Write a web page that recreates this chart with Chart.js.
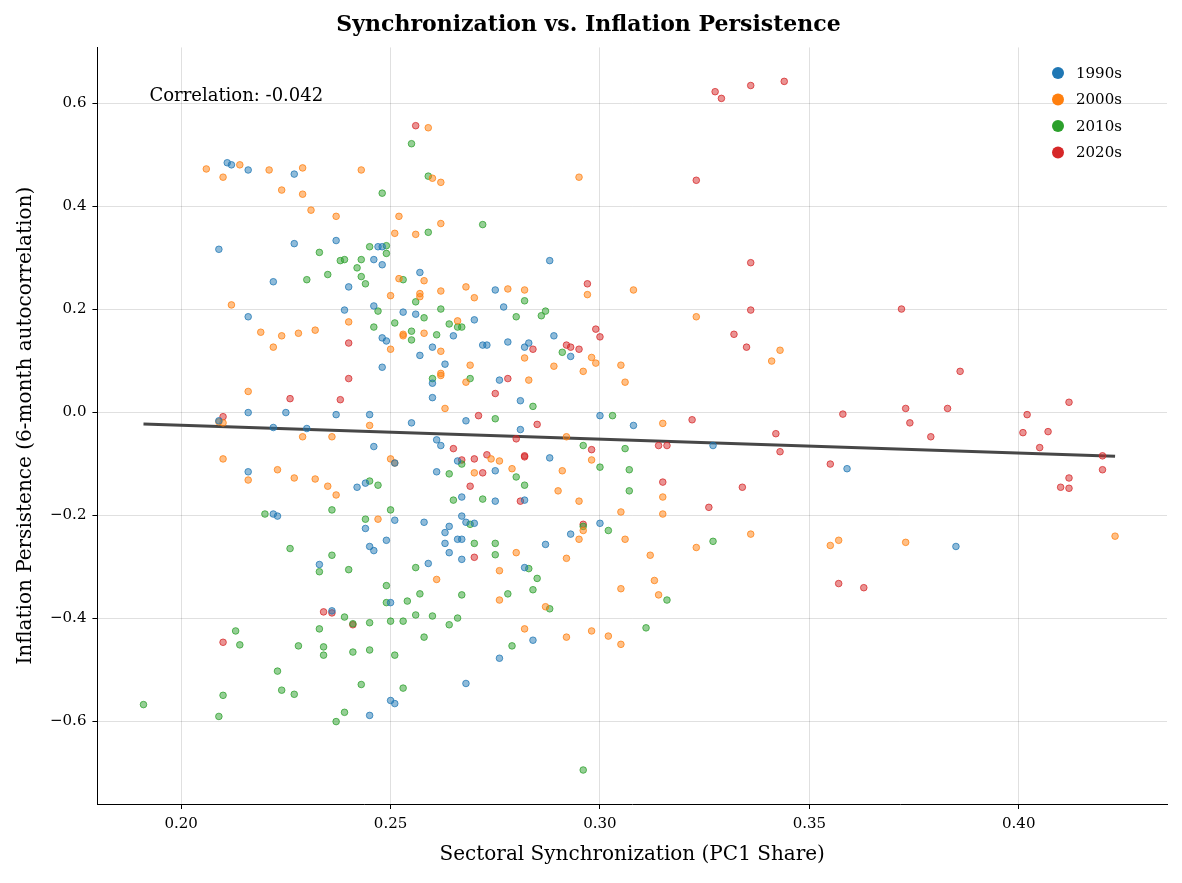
<!DOCTYPE html>
<html><head><meta charset="utf-8">
<script src="https://cdn.jsdelivr.net/npm/chart.js@4.4.0/dist/chart.umd.min.js"></script>
<style>html,body{margin:0;padding:0;background:#fff}#wrap{width:1182px;height:883px}#pre{font-family:'DejaVu Serif';position:absolute;left:-9999px}</style>
</head><body><div id="pre">Abc <b>Abc</b></div><div id="wrap"><canvas id="c"></canvas></div>
<script>
const seriesNames = ["1990s","2000s","2010s","2020s"];
const seriesColors = ["#1f77b4","#ff7f0e","#2ca02c","#d62728"];
const data1990s = [[0.211,0.485],[0.212,0.481],[0.216,0.471],[0.227,0.463],[0.209,0.317],[0.227,0.328],[0.237,0.334],[0.222,0.254],[0.216,0.186],[0.240,0.244],[0.239,0.199],[0.246,0.297],[0.247,0.322],[0.248,0.322],[0.248,0.287],[0.246,0.207],[0.248,0.145],[0.249,0.139],[0.248,0.088],[0.253,0.195],[0.256,0.191],[0.257,0.272],[0.257,0.111],[0.260,0.127],[0.260,0.057],[0.260,0.029],[0.263,0.094],[0.265,0.149],[0.270,0.180],[0.272,0.131],[0.273,0.131],[0.275,0.238],[0.277,0.205],[0.278,0.137],[0.282,0.127],[0.283,0.135],[0.288,0.295],[0.289,0.149],[0.293,0.109],[0.276,0.063],[0.281,0.023],[0.300,-0.006],[0.308,-0.025],[0.209,-0.016],[0.216,0.000],[0.225,0.000],[0.222,-0.029],[0.230,-0.031],[0.237,-0.004],[0.245,-0.004],[0.246,-0.066],[0.255,-0.020],[0.261,-0.053],[0.262,-0.064],[0.266,-0.094],[0.261,-0.115],[0.268,-0.016],[0.275,-0.113],[0.281,-0.033],[0.288,-0.088],[0.327,-0.064],[0.359,-0.109],[0.216,-0.115],[0.242,-0.145],[0.244,-0.137],[0.251,-0.098],[0.267,-0.164],[0.267,-0.201],[0.268,-0.213],[0.270,-0.215],[0.275,-0.172],[0.282,-0.170],[0.264,-0.221],[0.263,-0.233],[0.258,-0.213],[0.249,-0.248],[0.251,-0.209],[0.263,-0.254],[0.264,-0.272],[0.266,-0.246],[0.267,-0.246],[0.267,-0.285],[0.287,-0.256],[0.282,-0.301],[0.293,-0.236],[0.300,-0.215],[0.244,-0.225],[0.245,-0.260],[0.246,-0.268],[0.259,-0.293],[0.222,-0.197],[0.223,-0.201],[0.233,-0.295],[0.236,-0.385],[0.250,-0.369],[0.250,-0.559],[0.251,-0.565],[0.245,-0.588],[0.268,-0.526],[0.276,-0.477],[0.284,-0.442],[0.385,-0.260]];
const data2000s = [[0.206,0.473],[0.210,0.457],[0.214,0.481],[0.221,0.471],[0.229,0.475],[0.224,0.432],[0.229,0.424],[0.231,0.393],[0.237,0.381],[0.243,0.471],[0.259,0.553],[0.260,0.455],[0.262,0.447],[0.295,0.457],[0.252,0.381],[0.251,0.348],[0.256,0.346],[0.262,0.367],[0.258,0.256],[0.252,0.260],[0.257,0.231],[0.257,0.225],[0.250,0.227],[0.262,0.236],[0.268,0.244],[0.270,0.223],[0.278,0.240],[0.282,0.238],[0.297,0.229],[0.308,0.238],[0.212,0.209],[0.219,0.156],[0.222,0.127],[0.224,0.149],[0.228,0.154],[0.232,0.160],[0.240,0.176],[0.250,0.123],[0.253,0.152],[0.258,0.154],[0.253,0.149],[0.262,0.119],[0.266,0.178],[0.268,0.059],[0.269,0.092],[0.262,0.076],[0.262,0.072],[0.263,0.008],[0.282,0.106],[0.283,0.063],[0.289,0.090],[0.296,0.080],[0.298,0.107],[0.299,0.096],[0.305,0.092],[0.306,0.059],[0.323,0.186],[0.341,0.100],[0.343,0.121],[0.216,0.041],[0.209,-0.018],[0.210,-0.020],[0.229,-0.047],[0.236,-0.047],[0.245,-0.025],[0.250,-0.090],[0.251,-0.098],[0.210,-0.090],[0.223,-0.111],[0.216,-0.131],[0.227,-0.127],[0.232,-0.129],[0.235,-0.143],[0.237,-0.160],[0.247,-0.207],[0.270,-0.117],[0.274,-0.090],[0.276,-0.094],[0.279,-0.109],[0.291,-0.113],[0.298,-0.092],[0.292,-0.047],[0.315,-0.021],[0.290,-0.152],[0.295,-0.172],[0.305,-0.193],[0.315,-0.164],[0.315,-0.197],[0.296,-0.229],[0.295,-0.246],[0.306,-0.246],[0.323,-0.262],[0.336,-0.236],[0.355,-0.258],[0.357,-0.248],[0.373,-0.252],[0.423,-0.240],[0.313,-0.326],[0.314,-0.354],[0.292,-0.283],[0.312,-0.277],[0.280,-0.272],[0.276,-0.307],[0.276,-0.364],[0.287,-0.377],[0.261,-0.324],[0.282,-0.420],[0.292,-0.436],[0.298,-0.424],[0.302,-0.434],[0.305,-0.450],[0.305,-0.342]];
const data2010s = [[0.255,0.522],[0.259,0.459],[0.248,0.426],[0.272,0.365],[0.259,0.350],[0.233,0.311],[0.230,0.258],[0.235,0.268],[0.238,0.295],[0.239,0.297],[0.243,0.297],[0.242,0.281],[0.244,0.250],[0.243,0.264],[0.245,0.322],[0.249,0.324],[0.249,0.309],[0.253,0.258],[0.256,0.215],[0.262,0.201],[0.246,0.166],[0.247,0.197],[0.251,0.174],[0.255,0.158],[0.255,0.141],[0.258,0.184],[0.261,0.151],[0.264,0.172],[0.266,0.166],[0.267,0.166],[0.269,0.066],[0.280,0.186],[0.282,0.217],[0.286,0.188],[0.287,0.197],[0.291,0.117],[0.284,0.012],[0.260,0.066],[0.275,-0.012],[0.303,-0.006],[0.296,-0.064],[0.306,-0.070],[0.267,-0.100],[0.264,-0.119],[0.265,-0.170],[0.272,-0.168],[0.280,-0.125],[0.282,-0.141],[0.300,-0.106],[0.307,-0.111],[0.307,-0.152],[0.302,-0.229],[0.296,-0.221],[0.327,-0.250],[0.245,-0.133],[0.247,-0.141],[0.244,-0.207],[0.236,-0.189],[0.250,-0.189],[0.236,-0.277],[0.233,-0.309],[0.240,-0.305],[0.249,-0.336],[0.220,-0.197],[0.226,-0.264],[0.269,-0.217],[0.270,-0.254],[0.275,-0.254],[0.275,-0.276],[0.283,-0.303],[0.285,-0.322],[0.284,-0.344],[0.278,-0.352],[0.288,-0.381],[0.267,-0.354],[0.257,-0.352],[0.254,-0.366],[0.249,-0.369],[0.250,-0.405],[0.253,-0.405],[0.256,-0.393],[0.260,-0.395],[0.245,-0.408],[0.241,-0.410],[0.239,-0.397],[0.233,-0.420],[0.234,-0.455],[0.234,-0.471],[0.228,-0.453],[0.241,-0.465],[0.245,-0.461],[0.251,-0.471],[0.213,-0.424],[0.214,-0.451],[0.223,-0.502],[0.224,-0.539],[0.227,-0.547],[0.210,-0.549],[0.209,-0.590],[0.191,-0.567],[0.243,-0.528],[0.253,-0.535],[0.239,-0.582],[0.237,-0.600],[0.258,-0.436],[0.264,-0.412],[0.266,-0.399],[0.279,-0.453],[0.311,-0.418],[0.316,-0.364],[0.296,-0.694],[0.256,-0.301]];
const data2020s = [[0.3275,0.623],[0.329,0.610],[0.336,0.635],[0.344,0.643],[0.256,0.557],[0.323,0.451],[0.297,0.250],[0.336,0.291],[0.299,0.162],[0.300,0.147],[0.332,0.152],[0.335,0.127],[0.336,0.199],[0.372,0.201],[0.386,0.080],[0.293,0.127],[0.292,0.131],[0.295,0.123],[0.284,0.123],[0.240,0.135],[0.240,0.066],[0.238,0.025],[0.226,0.027],[0.210,-0.008],[0.358,-0.003],[0.373,0.008],[0.374,-0.020],[0.383,0.008],[0.379,-0.047],[0.402,-0.004],[0.401,-0.039],[0.405,-0.068],[0.407,-0.037],[0.412,0.020],[0.410,-0.145],[0.412,-0.147],[0.412,-0.127],[0.420,-0.084],[0.420,-0.111],[0.342,-0.041],[0.343,-0.076],[0.355,-0.100],[0.322,-0.014],[0.314,-0.064],[0.316,-0.064],[0.315,-0.135],[0.326,-0.184],[0.334,-0.145],[0.357,-0.332],[0.363,-0.340],[0.272,-0.117],[0.273,-0.082],[0.270,-0.090],[0.271,-0.006],[0.275,0.037],[0.278,0.066],[0.280,-0.051],[0.282,-0.084],[0.281,-0.172],[0.285,-0.023],[0.282,-0.086],[0.298,-0.072],[0.296,-0.217],[0.270,-0.281],[0.269,-0.143],[0.265,-0.070],[0.234,-0.387],[0.236,-0.389],[0.241,-0.412],[0.210,-0.446],[0.267,-0.092]];
const fitX = [0.191,0.423];
const fitY = [-0.022,-0.085];
const xTicks = [0.20,0.25,0.30,0.35,0.40];
const yTicks = [-0.6,-0.4,-0.2,0.0,0.2,0.4,0.6];
const correlationText = "Correlation: -0.042";

const FONT = "'DejaVu Serif'";
const allData = [data1990s,data2000s,data2010s,data2020s];
function alpha(hex,a){const n=parseInt(hex.slice(1),16);return `rgba(${n>>16},${(n>>8)&255},${n&255},${a})`;}
function build(){
const datasets = allData.map((d,i)=>({
  label: seriesNames[i], type:'scatter',
  data: d.map(p=>({x:p[0],y:p[1]})),
  backgroundColor: alpha(seriesColors[i],0.5), borderColor: alpha(seriesColors[i],0.75),
  borderWidth:1, pointRadius:3.3
}));
datasets.push({label:'fit',type:'line',data:fitX.map((x,i)=>({x,y:fitY[i]})),borderColor:'rgba(51,51,51,0.9)',borderWidth:3,pointRadius:0,fill:false});
const overlay = {
  id:'overlay',
  afterDatasetsDraw(chart){
    const {ctx,chartArea:a}=chart;
    ctx.save();
    ctx.fillStyle='#000';ctx.font=`18px ${FONT}`;ctx.textBaseline='middle';ctx.textAlign='left';
    ctx.fillText(correlationText,a.left+52,96);
    ctx.font=`15px ${FONT}`;
    seriesNames.forEach((n,i)=>{
      const y=73+i*26.5;
      ctx.beginPath();ctx.arc(1058,y,6,0,Math.PI*2);ctx.fillStyle=seriesColors[i];ctx.fill();
      ctx.fillStyle='#000';ctx.fillText(n,1076,y+1);
    });
    ctx.restore();
  }
};
const fmtMinus = s=>s.replace('-','\u2212');
new Chart(document.getElementById('c'),{
  data:{datasets},
  options:{
    responsive:true,maintainAspectRatio:false,animation:false,
    layout:{padding:{left:10,right:15,top:0,bottom:12}},
    plugins:{legend:{display:false},tooltip:{enabled:false},
      title:{display:true,text:'Synchronization vs. Inflation Persistence',color:'#000',font:{family:FONT,size:22,weight:'bold'},padding:{top:12,bottom:9}}},
    scales:{
      x:{type:'linear',min:0.18,max:0.4354,
        afterBuildTicks:s=>{s.ticks=xTicks.map(v=>({value:v}));},
        ticks:{color:'#000',font:{family:FONT,size:15},callback:v=>v.toFixed(2),padding:6},
        grid:{color:'rgba(0,0,0,0.12)',drawTicks:true,tickLength:5,tickColor:'#000'},
        border:{display:true,color:'#000',width:1},
        title:{display:true,text:'Sectoral Synchronization (PC1 Share)',color:'#000',font:{family:FONT,size:20},padding:{top:4}}},
      y:{type:'linear',min:-0.76,max:0.709,
        afterBuildTicks:s=>{s.ticks=yTicks.map(v=>({value:v}));},
        ticks:{color:'#000',font:{family:FONT,size:15},callback:v=>fmtMinus(v.toFixed(1)),padding:6},
        grid:{color:'rgba(0,0,0,0.12)',tickLength:5,tickColor:'#000'},
        border:{display:true,color:'#000',width:1},
        title:{display:true,text:'Inflation Persistence (6-month autocorrelation)',color:'#000',font:{family:FONT,size:20},padding:{bottom:6}}}
    }
  },
  plugins:[overlay]
});
}
Promise.all([document.fonts.load("15px 'DejaVu Serif'"),document.fonts.load("bold 22px 'DejaVu Serif'")]).then(build,build);
</script></body></html>
